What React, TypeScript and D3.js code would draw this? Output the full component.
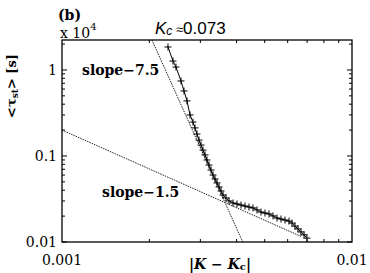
import React from 'react';
import * as d3 from 'd3';

// |K - Kc| values and mean lifetime <tau_st> (x 10^4 s)
const kDiff = [
  0.00232, 0.002414, 0.002472, 0.002572, 0.002634, 0.002698, 0.002763, 0.002829,
  0.002875, 0.00292, 0.002968, 0.003016, 0.003064, 0.003113, 0.003162, 0.003213,
  0.003265, 0.003317, 0.00337, 0.003424, 0.003479, 0.003535, 0.003592, 0.003677,
  0.003766, 0.003888, 0.004013, 0.004143, 0.004276, 0.004414, 0.004556, 0.004703,
  0.004855, 0.005012, 0.005174, 0.005341, 0.005513, 0.005691, 0.005875, 0.006065,
  0.00621, 0.006359, 0.006512, 0.006669, 0.006833, 0.006994
];
const tau = [
  1.85, 1.27, 1.08, 0.745, 0.57, 0.437, 0.3, 0.248,
  0.212, 0.18, 0.153, 0.134, 0.117, 0.103, 0.0898, 0.0785,
  0.0687, 0.0601, 0.054, 0.0486, 0.0436, 0.0392, 0.0352, 0.0325,
  0.03, 0.0284, 0.0277, 0.0269, 0.0262, 0.0255, 0.0249, 0.0236,
  0.0223, 0.0217, 0.0212, 0.0201, 0.019, 0.0185, 0.018, 0.0175,
  0.0166, 0.0153, 0.0142, 0.0131, 0.0121, 0.0111
];

// power-law guide lines: slope, anchor point, x range end
const fitSlopes = [-7.5, -1.5];
const fitAnchorX = [0.0042, 0.001];
const fitAnchorY = [0.01, 0.2];
const fitEndX = [0.0042, 0.0067];

const xTickLabels = ['0.001', '0.01'];
const yTickLabels = ['0.01', '0.1', '1'];

const margin = { top: 40, right: 18, bottom: 31, left: 62 };
const width = 370;
const height = 273;
const innerW = width - margin.left - margin.right;
const innerH = height - margin.top - margin.bottom;

export default function App() {
  const x = d3.scaleLog().domain([0.001, 0.01]).range([0, innerW]);
  const y = d3.scaleLog().domain([0.01, 2.23]).range([innerH, 0]);

  const dataPath = d3.line<number>()
    .x((i) => x(kDiff[i]))
    .y((i) => y(tau[i]))(d3.range(kDiff.length));

  const yTop = y.domain()[1];
  const fits = fitSlopes.map((s, k) => {
    const f = (v: number) => fitAnchorY[k] * Math.pow(v / fitAnchorX[k], s);
    // start where the line enters the plot
    let x0 = 0.001;
    if (f(x0) > yTop) x0 = fitAnchorX[k] * Math.pow(yTop / fitAnchorY[k], 1 / s);
    return [x0, fitEndX[k]].map((v) => [x(v), y(f(v))] as [number, number]);
  });

  const xMinor = d3.range(2, 10).map((d) => d * 0.001);
  const yMinor = [
    ...d3.range(2, 10).map((d) => d * 0.01),
    ...d3.range(2, 10).map((d) => d * 0.1),
    2
  ];
  const yMajor = [0.01, 0.1, 1];

  const serif = '"DejaVu Serif", serif';

  return (
    <svg width={width} height={height} style={{ position: 'absolute', left: 0, top: 0, background: '#fff' }}>
      <g transform={`translate(${margin.left},${margin.top})`}>
        <defs>
          <clipPath id="plot">
            <rect x={0} y={0} width={innerW} height={innerH} />
          </clipPath>
        </defs>

        {/* ticks, drawn inward on all four sides */}
        {xMinor.map((t) => (
          <g key={'x' + t}>
            <line x1={x(t)} x2={x(t)} y1={innerH} y2={innerH - 3} stroke="#000" />
            <line x1={x(t)} x2={x(t)} y1={0} y2={3} stroke="#000" />
          </g>
        ))}
        {yMinor.map((t) => (
          <g key={'y' + t}>
            <line x1={0} x2={3} y1={y(t)} y2={y(t)} stroke="#000" />
            <line x1={innerW} x2={innerW - 3} y1={y(t)} y2={y(t)} stroke="#000" />
          </g>
        ))}
        {yMajor.map((t) => (
          <g key={'ym' + t}>
            <line x1={0} x2={5} y1={y(t)} y2={y(t)} stroke="#000" />
            <line x1={innerW} x2={innerW - 5} y1={y(t)} y2={y(t)} stroke="#000" />
          </g>
        ))}

        <g clipPath="url(#plot)">
          {fits.map((pts, k) => (
            <line key={k} x1={pts[0][0]} y1={pts[0][1]} x2={pts[1][0]} y2={pts[1][1]}
              stroke="#222" strokeWidth={1} strokeDasharray="1.5,1" />
          ))}
          <path d={dataPath || ''} fill="none" stroke="#000" strokeWidth={1} />
          {kDiff.map((k, i) => (
            <g key={i} transform={`translate(${x(k)},${y(tau[i])})`} stroke="#000" strokeWidth={1}>
              <line x1={-3.5} x2={3.5} y1={0} y2={0} />
              <line x1={0} x2={0} y1={-3.5} y2={3.5} />
            </g>
          ))}
        </g>

        <rect x={0} y={0} width={innerW} height={innerH} fill="none" stroke="#000" strokeWidth={1.3} />

        {xTickLabels.map((t) => (
          <text key={t} x={x(+t)} y={innerH + 23} textAnchor="middle" fontFamily={serif} fontSize={14}>{t}</text>
        ))}
        {yTickLabels.map((t) => (
          <text key={t} x={-5} y={y(+t) + 5} textAnchor="end" fontFamily={serif} fontSize={14}>{t}</text>
        ))}

        <text x={innerW / 2 + 13} y={innerH + 27} textAnchor="middle" fontFamily={serif} fontSize={14} fontWeight="bold">
          |<tspan fontStyle="italic">K</tspan> − <tspan fontStyle="italic">K</tspan><tspan fontSize={10} dy={1}>c</tspan><tspan dy={-1}>|</tspan>
        </text>

        <text x={20} y={35} fontFamily={serif} fontSize={14} fontWeight="bold">slope−7.5</text>
        <text x={40} y={157} fontFamily={serif} fontSize={14} fontWeight="bold">slope−1.5</text>

        <text transform={`translate(${-46},${innerH / 2 - 55}) rotate(-90)`} textAnchor="middle"
          fontFamily={serif} fontSize={13} fontWeight="bold">
          &lt;τ<tspan fontSize={9} dy={2}>st</tspan><tspan dy={-2}>&gt; [s]</tspan>
        </text>
      </g>

      <text x={58} y={20} fontFamily={serif} fontSize={14} fontWeight="bold">(b)</text>
      <text x={60} y={38} fontFamily={serif} fontSize={14}>x 10<tspan fontSize={10} dy={-8}>4</tspan></text>
      <text x={155} y={34} fontFamily='"Liberation Sans", sans-serif' fontSize={17}>
        <tspan fontStyle="italic">K</tspan><tspan fontStyle="italic" fontSize={12} dy={1}>c</tspan><tspan dy={-1} fontSize={13}> ≈</tspan>0.073
      </text>
    </svg>
  );
}
